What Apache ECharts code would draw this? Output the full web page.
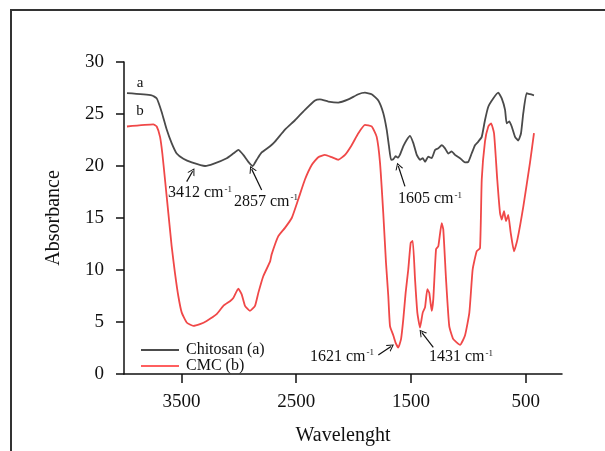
<!DOCTYPE html>
<html lang="en">
<head>
<meta charset="UTF-8">
<title>Chitosan / CMC FTIR</title>
<script src="https://cdn.jsdelivr.net/npm/echarts@6/dist/echarts.min.js"></script>
<style>
  html, body { margin: 0; padding: 0; background: #fff; }
  #main { width: 605px; height: 451px; }
</style>
</head>
<body>
<div id="main"></div>
<script>
// wavenumber (cm-1) / absorbance
var chitosanX = [3974, 3759, 3715, 3672, 3628, 3585, 3541, 3483, 3410, 3294, 3222, 3105, 3048, 3004, 2961, 2917, 2879, 2844, 2801, 2728,
                 2685, 2598, 2511, 2424, 2336, 2293, 2221, 2134, 2046, 1959, 1901, 1843, 1785, 1742, 1712, 1692, 1674, 1654, 1634, 1616,
                 1596, 1567, 1538, 1509, 1480, 1451, 1422, 1398, 1378, 1350, 1320, 1291, 1262, 1233, 1204, 1175, 1146, 1117, 1073, 1030,
                 1001, 972, 943, 914, 884, 856, 827, 784, 740, 710, 681, 667, 644, 623, 594, 566, 542, 522, 493, 464, 429];
var chitosanY = [27.0, 26.8, 26.5, 25.2, 23.5, 22.2, 21.2, 20.7, 20.35, 20.0, 20.2, 20.75, 21.2, 21.55, 21.07, 20.4, 20.0, 20.6, 21.3, 21.9,
                 22.35, 23.5, 24.4, 25.4, 26.3, 26.4, 26.2, 26.1, 26.4, 26.9, 27.05, 26.9, 26.3, 25.1, 23.5, 21.9, 20.6, 20.65, 20.95, 20.8,
                 21.1, 21.9, 22.5, 22.9, 22.2, 21.1, 20.6, 20.75, 20.4, 20.9, 20.75, 21.55, 21.7, 22.0, 21.7, 21.2, 21.4, 21.07, 20.75, 20.35,
                 20.4, 21.2, 22.0, 22.35, 22.8, 24.4, 25.7, 26.5, 27.05, 26.5, 25.4, 24.1, 24.3, 23.8, 22.8, 22.45, 23.15, 25.1, 27.0, 26.9, 26.8];

var cmcX = [3974, 3745, 3715, 3686, 3666, 3643, 3614, 3585, 3556, 3527, 3497, 3454, 3396, 3338, 3280, 3193, 3135, 3077, 3048, 3004,
            2975, 2946, 2903, 2859, 2830, 2787, 2728, 2714, 2656, 2598, 2539, 2482, 2424, 2365, 2308, 2250, 2191, 2134, 2075, 2017,
            1959, 1901, 1843, 1799, 1770, 1742, 1718, 1698, 1683, 1654, 1634, 1611, 1587, 1567, 1547, 1524, 1503, 1485, 1465, 1445,
            1422, 1398, 1378, 1358, 1341, 1320, 1306, 1282, 1262, 1233, 1219, 1195, 1167, 1132, 1073, 1030, 992, 963, 928, 899,
            884, 856, 827, 803, 777, 749, 725, 710, 690, 673, 653, 632, 603, 574, 522, 464, 429];
var cmcY = [23.8, 24.0, 23.8, 22.8, 21.2, 18.7, 15.5, 12.3, 9.7, 7.5, 5.9, 4.95, 4.63, 4.8, 5.1, 5.75, 6.55, 7.0, 7.3, 8.2,
            7.66, 6.55, 6.07, 6.55, 7.8, 9.4, 10.8, 11.5, 13.25, 14.05, 15.0, 16.8, 18.7, 20.1, 20.85, 21.07, 20.85, 20.6, 21.07, 22.0,
            23.15, 23.95, 23.8, 22.8, 20.3, 15.5, 10.7, 7.5, 4.6, 3.7, 3.0, 2.55, 3.35, 5.3, 7.8, 10.05, 12.6, 12.8, 9.1, 5.9,
            4.47, 5.9, 6.4, 8.15, 7.8, 6.07, 7.2, 12.0, 12.3, 14.5, 13.9, 9.1, 4.6, 3.35, 2.8, 3.7, 5.9, 10.05, 11.8, 12.1,
            18.7, 22.35, 23.8, 24.1, 23.15, 18.7, 15.5, 14.85, 15.65, 14.7, 15.3, 13.6, 11.8, 12.9, 16.1, 20.3, 23.15];

var xTicks = [3500, 2500, 1500, 500];
var seriesNames = ['Chitosan (a)', 'CMC (b)'];

// peak notes: text, text anchor [x, y], arrow tail, arrow head
var noteText = ['3412 cm', '2857 cm', '1605 cm', '1621 cm', '1431 cm'];
var noteAt = [[3338, 17.4], [2763, 16.6], [1335, 16.86], [2101, 1.68], [1065, 1.63]];
var arrowFrom = [[3454, 18.5], [2801, 17.7], [1553, 18.04], [1785, 1.82], [1306, 2.56]];
var arrowTo = [[3402, 19.5], [2888, 19.7], [1611, 20.0], [1674, 2.65], [1407, 4.0]];

var curveTag = ['a', 'b'];
var curveTagAt = [[3861, 28.0], [3861, 25.3]];

function zip(xs, ys) {
    var out = [];
    for (var i = 0; i < xs.length; i++) out.push([xs[i], ys[i]]);
    return out;
}

var serif = "'Liberation Serif', 'DejaVu Serif', serif";
var myChart = echarts.init(document.getElementById('main'));

var notePoints = [];
for (var i = 0; i < noteText.length; i++) {
    notePoints.push({
        coord: noteAt[i],
        label: { formatter: noteText[i] + '{sup|-1}' }
    });
}
for (var j = 0; j < curveTag.length; j++) {
    notePoints.push({
        coord: curveTagAt[j],
        label: { formatter: curveTag[j], fontSize: 15 }
    });
}
var arrows = [];
for (var k = 0; k < arrowFrom.length; k++) {
    arrows.push([{ coord: arrowFrom[k] }, { coord: arrowTo[k] }]);
}

var option = {
    backgroundColor: '#fff',
    animation: false,
    graphic: [{
        type: 'rect',
        shape: { x: 11, y: 10, width: 800, height: 800 },
        style: { fill: 'none', stroke: '#333', lineWidth: 2 },
        silent: true
    }],
    legend: {
        orient: 'vertical',
        left: 136,
        top: 337,
        itemGap: 0,
        itemWidth: 38,
        itemHeight: 1.5,
        icon: 'rect',
        data: [
            { name: seriesNames[0], itemStyle: { color: '#111' } },
            { name: seriesNames[1], itemStyle: { color: '#ff2a2a' } }
        ],
        textStyle: { fontFamily: serif, fontSize: 16, color: '#111', lineHeight: 16, padding: [0, 0, 0, 2] }
    },
    grid: { left: 124, right: 43, top: 62, bottom: 76 },
    xAxis: {
        type: 'value',
        inverse: true,
        min: 185,
        max: 4000,
        name: 'Wavelenght',
        nameLocation: 'middle',
        nameGap: 52,
        nameTextStyle: { fontFamily: serif, fontSize: 20, color: '#111' },
        axisLine: { show: true, lineStyle: { color: '#111', width: 1.5 } },
        axisTick: { show: true, length: 9, customValues: xTicks, lineStyle: { color: '#111', width: 1.5 } },
        axisLabel: {
            customValues: xTicks, margin: 19, fontFamily: serif, fontSize: 19, color: '#111',
            formatter: function (v) { return String(v); }
        },
        splitLine: { show: false }
    },
    yAxis: {
        type: 'value',
        min: 0,
        max: 30,
        interval: 5,
        name: 'Absorbance',
        nameLocation: 'middle',
        nameGap: 60,
        nameTextStyle: { fontFamily: serif, fontSize: 20, color: '#111' },
        axisLine: { show: true, lineStyle: { color: '#111', width: 1.5 } },
        axisTick: { show: true, length: 8, lineStyle: { color: '#111', width: 1.5 } },
        axisLabel: { margin: 20, fontFamily: serif, fontSize: 19, color: '#111' },
        splitLine: { show: false }
    },
    series: [
        {
            name: seriesNames[0],
            type: 'line',
            data: zip(chitosanX, chitosanY),
            showSymbol: false,
            smooth: 0.15,
            color: '#4a4a4a',
            lineStyle: { width: 1.8, color: '#4a4a4a' },
            z: 3
        },
        {
            name: seriesNames[1],
            type: 'line',
            data: zip(cmcX, cmcY),
            showSymbol: false,
            smooth: 0.15,
            color: '#f04848',
            lineStyle: { width: 1.8, color: '#f04848' },
            z: 2,
            markPoint: {
                silent: true,
                symbol: 'circle',
                symbolSize: 1,
                itemStyle: { color: 'rgba(0,0,0,0)' },
                label: {
                    show: true,
                    position: 'inside',
                    fontFamily: serif,
                    fontSize: 16,
                    color: '#111',
                    rich: {
                        sup: { fontFamily: serif, fontSize: 9, color: '#111', verticalAlign: 'top', padding: [0, 0, 6, 1] }
                    }
                },
                data: notePoints
            },
            markLine: {
                silent: true,
                symbol: ['none', 'path://M0,10 L5,0 L10,10 L8.6,10 L5,2.8 L1.4,10 Z'],
                symbolSize: [8, 7],
                label: { show: false },
                lineStyle: { color: '#111', width: 1.2, type: 'solid' },
                data: arrows
            }
        }
    ]
};

myChart.setOption(option);
</script>
</body>
</html>
